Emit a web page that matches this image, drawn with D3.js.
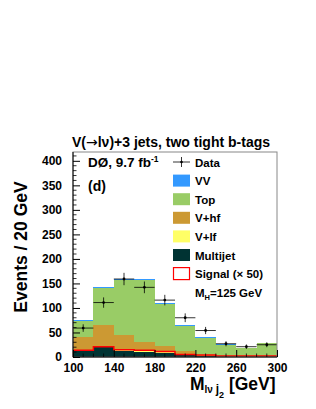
<!DOCTYPE html>
<html><head><meta charset="utf-8">
<script src="https://cdn.jsdelivr.net/npm/d3@7"></script>
<style>body{margin:0;background:#fff}svg{display:block}text{font-family:"Liberation Sans",Arial,sans-serif;font-weight:bold}</style>
</head><body>
<script>
const binEdges = [100,120,140,160,180,200,220,240,260,280,300];
const multijet = [12, 20, 13, 11, 9, 4, 2.5, 1, 1, 1];
const vlf      = [2, 2, 2, 2, 1.5, 1, 0.5, 0.3, 0.2, 0.3];
const vhf      = [26, 43, 29, 18, 11.5, 8, 2, 1.7, 0.8, 1.7];
const top_     = [33, 75, 114, 127, 87, 51, 34, 22, 16, 25];
const vv       = [1.5, 2, 1.5, 1.5, 1.5, 1, 1, 1, 1, 1];
const signal   = [14, 21, 15, 14, 11, 5, 4, 2, 2, 2];
const dataVals = [59, 111, 159, 142, 116, 80, 54, 27, 21, 25];
const yTicks = [0,50,100,150,200,250,300,350,400];
const xTicks = [100,140,180,220,260,300];
const seriesNames = ["Multijet","V+lf","V+hf","Top","VV"];
const seriesColors = {"Multijet":"#003333","V+lf":"#ffff66","V+hf":"#cc9933","Top":"#99cc66","VV":"#3399ff"};

const W=316,H=409;
const svg=d3.select("body").append("svg").attr("width",W).attr("height",H);
const L=73,R=277,T=152,B=357;
const x=d3.scaleLinear().domain([100,300]).range([L,R]);
const y=d3.scaleLinear().domain([0,418]).range([B,T]);

const seriesData={"Multijet":multijet,"V+lf":vlf,"V+hf":vhf,"Top":top_,"VV":vv};
const rows=binEdges.slice(0,-1).map((e,i)=>{const r={lo:e,hi:binEdges[i+1]};seriesNames.forEach(n=>r[n]=seriesData[n][i]);return r;});
const stack=d3.stack().keys(seriesNames)(rows);
const g=svg.append("g");
stack.forEach(layer=>{
  g.selectAll(null).data(layer).enter().append("rect")
   .attr("x",d=>x(d.data.lo)).attr("width",d=>x(d.data.hi)-x(d.data.lo))
   .attr("y",d=>y(d[1])).attr("height",d=>Math.max(0,y(d[0])-y(d[1])))
   .attr("fill",seriesColors[layer.key]).attr("shape-rendering","crispEdges");
});
// signal step outline
const sigPts=[];
signal.forEach((v,i)=>{sigPts.push([binEdges[i],v]);sigPts.push([binEdges[i+1],v]);});
svg.append("path").attr("d",d3.line().x(d=>x(d[0])).y(d=>y(d[1]))(sigPts))
  .attr("fill","none").attr("stroke","#ff0000").attr("stroke-width",1.5);

// data
const dg=svg.append("g");
dataVals.forEach((v,i)=>{
  const cx=x((binEdges[i]+binEdges[i+1])/2), e=Math.sqrt(v);
  dg.append("line").attr("x1",x(binEdges[i])).attr("x2",x(binEdges[i+1])).attr("y1",y(v)).attr("y2",y(v)).attr("stroke","#000").attr("stroke-width",0.8);
  dg.append("line").attr("x1",cx).attr("x2",cx).attr("y1",y(v-e)).attr("y2",y(v+e)).attr("stroke","#000").attr("stroke-width",0.8);
  dg.append("circle").attr("cx",cx).attr("cy",y(v)).attr("r",1.4).attr("fill","#000");
});

// frame
svg.append("rect").attr("x",L).attr("y",T).attr("width",R-L).attr("height",B-T).attr("fill","none").attr("stroke","#888").attr("stroke-width",1);
svg.append("line").attr("x1",L).attr("x2",L).attr("y1",T).attr("y2",B).attr("stroke","#000").attr("stroke-width",1);
svg.append("line").attr("x1",L).attr("x2",R).attr("y1",B).attr("y2",B).attr("stroke","#000").attr("stroke-width",1);

// y ticks (inside)
const yAxis=d3.axisLeft(y).tickValues(yTicks).tickSize(-7).tickPadding(11).tickFormat(d3.format("d"));
const ya=svg.append("g").attr("transform",`translate(${L},0)`).call(yAxis);
ya.select(".domain").remove();
ya.selectAll("text").attr("font-size",12).attr("font-family","Liberation Sans, Arial").attr("font-weight","bold").attr("fill","#000");
ya.selectAll(".tick line").attr("stroke","#000");
const yMinor=d3.range(0,420,10).filter(v=>v%50!==0);
svg.append("g").selectAll(null).data(yMinor).enter().append("line")
  .attr("x1",L).attr("x2",L+3.5).attr("y1",d=>y(d)).attr("y2",d=>y(d)).attr("stroke","#000").attr("stroke-width",0.8);

// x ticks (inside)
const xAxis=d3.axisBottom(x).tickValues(xTicks).tickSize(-7).tickPadding(6).tickFormat(d3.format("d"));
const xa=svg.append("g").attr("transform",`translate(0,${B})`).call(xAxis);
xa.select(".domain").remove();
xa.selectAll("text").attr("font-size",12).attr("font-family","Liberation Sans, Arial").attr("font-weight","bold").attr("fill","#000");
xa.selectAll(".tick line").attr("stroke","#000");
const xMinor=d3.range(100,301,10).filter(v=>(v-100)%40!==0);
svg.append("g").selectAll(null).data(xMinor).enter().append("line")
  .attr("x1",d=>x(d)).attr("x2",d=>x(d)).attr("y1",B).attr("y2",B-3.5).attr("stroke","#000").attr("stroke-width",0.8);

// title
const tt=svg.append("text").attr("x",171).attr("y",147).attr("text-anchor","middle").attr("font-size",14);
tt.append("tspan").text("V(");
tt.append("tspan").attr("font-family","DejaVu Sans").attr("font-weight","normal").text("→");
tt.append("tspan").text("lν)+3 jets, two tight b-tags");
// y label
svg.append("text").attr("transform","translate(27,247) rotate(-90)").attr("text-anchor","middle").attr("font-size",17.5).text("Events / 20 GeV");
// x label
const xl=svg.append("text").attr("x",190).attr("y",390).attr("font-size",17.5);
xl.append("tspan").text("M");
xl.append("tspan").attr("font-size",10).attr("dy",3).text("lν ");
xl.append("tspan").attr("font-size",12).attr("dy",0).text("j");
xl.append("tspan").attr("font-size",9).attr("dy",5).text("2");
xl.append("tspan").attr("font-size",17.5).attr("dy",-8).text(" [GeV]");

// DØ label
const dl=svg.append("text").attr("x",88).attr("y",167).attr("font-size",13.5);
dl.append("tspan").text("DØ, 9.7 fb");
dl.append("tspan").attr("font-size",8.5).attr("dy",-5).text("-1");
svg.append("text").attr("x",88).attr("y",191).attr("font-size",14).text("(d)");

// legend
const lx=173,tx=195,lh=18.6,ly0=162;
const lgItems=[{n:"Data",t:"data"},{n:"VV",t:"box"},{n:"Top",t:"box"},{n:"V+hf",t:"box"},{n:"V+lf",t:"box"},{n:"Multijet",t:"box"},{n:"Signal (× 50)",t:"sig"}];
lgItems.forEach((it,i)=>{
  const cy=ly0+i*lh;
  if(it.t==="data"){
    svg.append("line").attr("x1",lx).attr("x2",lx+17).attr("y1",cy).attr("y2",cy).attr("stroke","#000").attr("stroke-width",0.8);
    svg.append("line").attr("x1",lx+8.5).attr("x2",lx+8.5).attr("y1",cy-5).attr("y2",cy+5).attr("stroke","#000").attr("stroke-width",0.8);
    svg.append("circle").attr("cx",lx+8.5).attr("cy",cy).attr("r",1.3);
  } else if(it.t==="box"){
    svg.append("rect").attr("x",lx).attr("y",cy-6).attr("width",17).attr("height",12).attr("fill",seriesColors[it.n]);
  } else {
    svg.append("rect").attr("x",lx+0.5).attr("y",cy-6).attr("width",16).attr("height",12).attr("fill","#fff").attr("stroke","#ff0000").attr("stroke-width",1.2);
  }
  svg.append("text").attr("x",tx).attr("y",cy+4.5).attr("font-size",11.5).text(it.n);
});
const mh=svg.append("text").attr("x",tx).attr("y",ly0+7*lh+4.5).attr("font-size",11.5);
mh.append("tspan").text("M");
mh.append("tspan").attr("font-size",7.5).attr("dy",3).text("H");
mh.append("tspan").attr("dy",-3).text("=125 GeV");
</script>
</body></html>
